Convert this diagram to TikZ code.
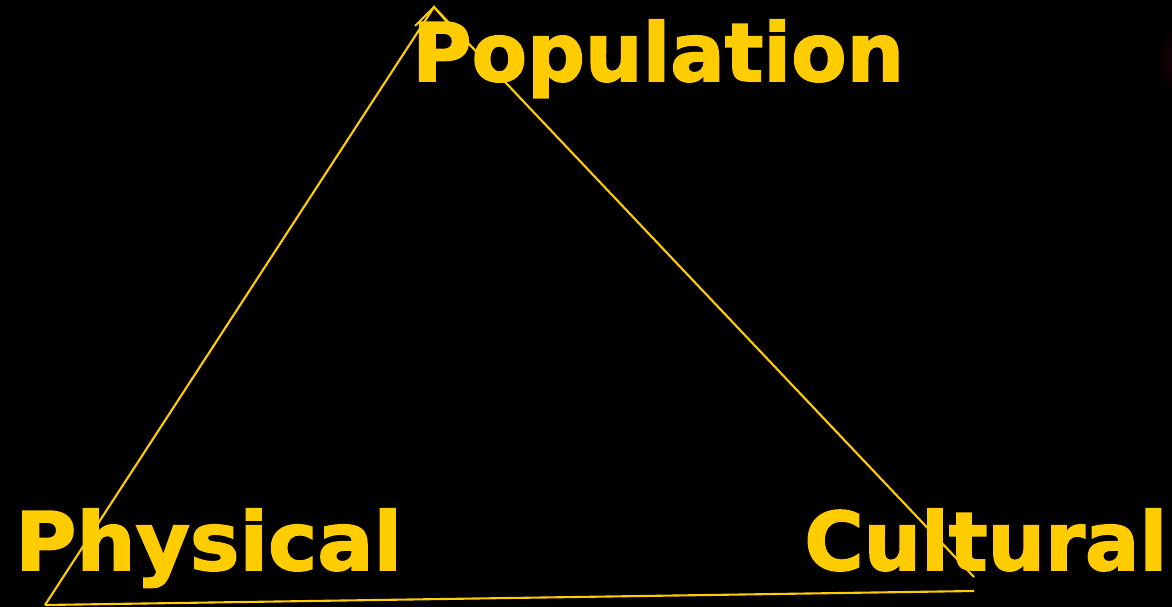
\documentclass[tikz,border=0pt]{standalone}
\usepackage{fontspec}
\setmainfont{DejaVu Sans}[BoldFeatures={FakeBold=2}]
\begin{document}
\begin{tikzpicture}[x=0.02cm,y=-0.02cm]
    \definecolor{backColour}{HTML}{000000}
    \definecolor{lineColour}{HTML}{FFCC00}
    \definecolor{glowColour}{HTML}{3A0610}

    \tikzset{
        label/.style={font=\bfseries\fontsize{46}{50}\selectfont, text=lineColour, inner sep=0pt, anchor=base west},
        edge/.style={draw=lineColour, line width=1.2pt}
    }

    % Draw background
    \fill[backColour] (0,0) rectangle (1172,607);
    \useasboundingbox (0,0) rectangle (1172,607);

    % Faint glow at the right edge
    \begin{scope}
        \clip (0,0) rectangle (1172,607);
        \shade[inner color=glowColour, outer color=backColour] (1200,60) circle (45);
    \end{scope}

    % Define corners of the triangle
    \coordinate (apex) at (434,7);
    \coordinate (left) at (45,605);
    \coordinate (rightUp) at (974,577);
    \coordinate (rightDown) at (974,591);
    \coordinate (apexL) at (415,26);
    \coordinate (apexR) at (447,22);

    % Draw triangle
    \draw[edge] (left) -- (apex) -- (rightUp);
    \draw[edge] (left) -- (rightDown);
    \draw[edge] (apexL) -- (apex) -- (apexR);

    % Label corners
    \node[label] (pop) at (412,81) {Population};
    \node[label, xscale=1.03] (phys) at (15,570) {Physical};
    \node[label] (cult) at (804,570) {Cultural};

\end{tikzpicture}
\end{document}
